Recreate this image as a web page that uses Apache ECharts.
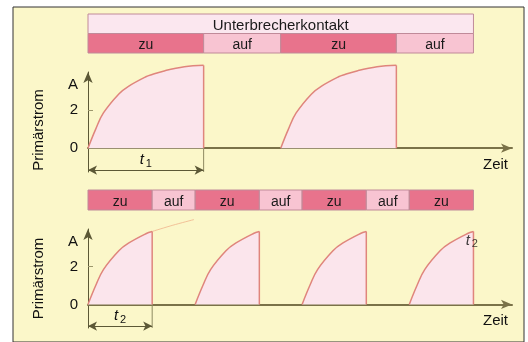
<!DOCTYPE html>
<html lang="de">
  <head>
    <meta charset="UTF-8" />
    <title>Primärstrom und Unterbrecherkontakt</title>
    <style>
      * {
        margin: 0;
        padding: 0;
      }
      body {
        background: #ffffff;
      }
    </style>
  </head>
  <body>
    <div id="main" style="width: 528px; height: 342px;"></div>
    <script src="https://cdn.jsdelivr.net/npm/echarts@6/dist/echarts.min.js"></script>
    <script>
      // Kontaktabschnitte (Zeit in willkürlichen Einheiten)
      let headerText = "Unterbrecherkontakt";
      let headerSpan = [0, 20];
      let topStart = [0, 6, 10, 16];
      let topEnd = [6, 10, 16, 20];
      let topLabel = ["zu", "auf", "zu", "auf"];
      let botStart = [0, 3.33, 5.56, 8.89, 11.11, 14.44, 16.67];
      let botEnd = [3.33, 5.56, 8.89, 11.11, 14.44, 16.67, 20];
      let botLabel = ["zu", "auf", "zu", "auf", "zu", "auf", "zu"];

      // Ladekurve (t ab "zu", Strom in A)
      let chargeT = [0, 0.4, 0.8, 1.6, 2.1, 3, 3.33, 4, 5, 6];
      let chargeI = [0, 1.0, 1.85, 2.85, 3.25, 3.75, 3.87, 4.07, 4.27, 4.35];

      // angedeuteter Weiterverlauf (unten, erster Impuls)
      let overT = [3.33, 4.4, 5.5];
      let overI = [3.87, 4.2, 4.5];

      // Beschriftung der y-Achse
      let yLabelValues = [0, 2, 3.3];
      let yLabelText = ["0", "2", "A"];
      let yTickValues = [2];

      let tMax = 22;
      let font = "Arial, 'Liberation Sans', sans-serif";
      let colZu = "#e8738c";
      let colAuf = "#f8c4d2";
      let colHead = "#fbe7ef";
      let colCurve = "#df857c";
      let colFill = "#fbe5ec";
      let colAxis = "#5c5836";

      let richT = {
        t: { fontSize: 15, fontStyle: "italic", fontFamily: font, color: "#111" },
        s: { fontSize: 11, fontFamily: font, color: "#111", padding: [7, 0, 0, 2] },
      };

      // Punkte einer Ladekurve ab Zeitpunkt start, Dauer dur
      function charge(start, dur) {
        let pts = [];
        for (let i = 0; i < chargeT.length; i++) {
          if (chargeT[i] <= dur + 0.001) {
            pts.push([start + chargeT[i], chargeI[i]]);
          }
        }
        return pts;
      }

      // Balkenzeile als custom series
      function barSeries(idx, rows) {
        return {
          type: "custom",
          xAxisIndex: idx,
          yAxisIndex: idx,
          silent: true,
          data: rows.map(function (r) {
            return [r.start, r.end, r.row];
          }),
          renderItem: function (params, api) {
            let r = rows[params.dataIndex];
            let p0 = api.coord([api.value(0), api.value(2)]);
            let p1 = api.coord([api.value(1), api.value(2) + 1]);
            return {
              type: "rect",
              shape: {
                x: p0[0],
                y: p0[1],
                width: p1[0] - p0[0],
                height: p1[1] - p0[1],
              },
              style: { fill: r.color, stroke: "#c08a99", lineWidth: 1 },
              textContent: {
                style: { text: r.label, fill: "#1a1a1a", font: r.size + "px " + font },
              },
              textConfig: { position: "inside", offset: [0, 2] },
            };
          },
        };
      }

      function rowsOf(starts, ends, labels, row) {
        let out = [];
        for (let i = 0; i < starts.length; i++) {
          out.push({
            start: starts[i],
            end: ends[i],
            label: labels[i],
            row: row,
            size: 14,
            color: labels[i] == "zu" ? colZu : colAuf,
          });
        }
        return out;
      }

      // Achsen eines Diagramms
      function plotX(g) {
        return {
          gridIndex: g,
          type: "value",
          min: 0,
          max: tMax,
          axisLine: {
            onZero: true,
            symbol: ["none", "arrow"],
            symbolSize: [7, 11],
            lineStyle: { color: "#7a7248", width: 2 },
          },
          axisTick: { show: false },
          axisLabel: { show: false },
          splitLine: { show: false },
          name: "Zeit",
          nameLocation: "end",
          nameGap: -4,
          nameTextStyle: {
            align: "right",
            verticalAlign: "top",
            padding: [9, 0, 0, 0],
            fontSize: 15,
            fontFamily: font,
            color: "#111",
          },
        };
      }
      function plotY(g, shift) {
        return {
          gridIndex: g,
          type: "value",
          min: -1.25,
          max: 4,
          axisLine: {
            symbol: ["none", "arrow"],
            symbolSize: [7, 11],
            lineStyle: { color: colAxis, width: 1 },
          },
          axisTick: {
            show: true,
            inside: true,
            length: 5,
            customValues: yTickValues,
            lineStyle: { color: "#9c976c" },
          },
          axisLabel: {
            customValues: yLabelValues,
            formatter: function (v) {
              return yLabelText[yLabelValues.indexOf(v)];
            },
            fontSize: 15,
            fontFamily: font,
            color: "#111",
            margin: 10,
          },
          splitLine: { show: false },
          name: "Primärstrom",
          nameLocation: "middle",
          nameGap: 42,
          nameTextStyle: {
            fontSize: 15,
            fontFamily: font,
            color: "#111",
            padding: [0, shift, 0, 0],
          },
        };
      }
      function hidden(g) {
        return { gridIndex: g, type: "value", show: false, min: 0, max: 1 };
      }

      // Impulse (Kurve + senkrechter Abfall) fuer alle "zu"-Abschnitte
      function pulses(idx, starts, ends, labels) {
        let list = [];
        for (let i = 0; i < starts.length; i++) {
          if (labels[i] != "zu") continue;
          let pts = charge(starts[i], ends[i] - starts[i]);
          let peak = pts[pts.length - 1];
          list.push({
            type: "line",
            xAxisIndex: idx,
            yAxisIndex: idx,
            data: pts,
            smooth: 0.4,
            symbol: "none",
            silent: true,
            clip: false,
            lineStyle: { color: colCurve, width: 1.5 },
            areaStyle: { color: colFill, opacity: 1 },
            z: 3,
          });
          list.push({
            type: "line",
            xAxisIndex: idx,
            yAxisIndex: idx,
            data: [peak, [peak[0], 0]],
            symbol: "none",
            silent: true,
            clip: false,
            lineStyle: { color: colCurve, width: 1.5 },
            z: 4,
          });
        }
        return list;
      }

      // Bemassung t1 / t2 mit Hilfslinie
      function dimension(idx, end, sub) {
        return {
          type: "line",
          xAxisIndex: idx,
          yAxisIndex: idx,
          data: [
            [end, 0],
            [end, -1.25],
          ],
          symbol: "none",
          silent: true,
          lineStyle: { color: "#8e8a62", width: 1 },
          z: 2,
          markLine: {
            silent: true,
            symbol: ["arrow", "arrow"],
            symbolSize: [7, 9],
            lineStyle: { color: colAxis, width: 1, type: "solid" },
            label: {
              show: true,
              position: "middle",
              distance: 1,
              formatter: "{t|t}{s|" + sub + "}",
              rich: richT,
            },
            data: [[{ coord: [0, -1.15] }, { coord: [end, -1.15] }]],
          },
        };
      }

      function draw() {
        let myEcharts = echarts.init(document.getElementById("main"));
        let topRows = [
          {
            start: headerSpan[0],
            end: headerSpan[1],
            label: headerText,
            row: 0,
            size: 15,
            color: colHead,
          },
        ].concat(rowsOf(topStart, topEnd, topLabel, 1));
        let botRows = rowsOf(botStart, botEnd, botLabel, 0);
        let lastEnd = botEnd[botEnd.length - 1];

        let option = {
          animation: false,
          backgroundColor: "#ffffff",
          textStyle: { fontFamily: font },
          grid: [
            {
              left: 13,
              top: 7,
              right: 4,
              bottom: -5,
              show: true,
              backgroundColor: "#fbf7c9",
              borderColor: "#333333",
              borderWidth: 1,
            },
            { left: 88, right: 16, top: 14, height: 39 },
            { left: 88, right: 16, top: 72, height: 100 },
            { left: 88, right: 16, top: 190, height: 20 },
            { left: 88, right: 16, top: 229, height: 99 },
          ],
          xAxis: [
            hidden(0),
            { gridIndex: 1, type: "value", min: 0, max: tMax, show: false },
            plotX(2),
            { gridIndex: 3, type: "value", min: 0, max: tMax, show: false },
            plotX(4),
          ],
          yAxis: [
            hidden(0),
            { gridIndex: 1, type: "value", min: 0, max: 2, inverse: true, show: false },
            plotY(2, 16),
            { gridIndex: 3, type: "value", min: 0, max: 1, inverse: true, show: false },
            plotY(4, 0),
          ],
          series: [barSeries(1, topRows), barSeries(3, botRows)]
            .concat(pulses(2, topStart, topEnd, topLabel))
            .concat(pulses(4, botStart, botEnd, botLabel))
            .concat([
              dimension(2, topEnd[0], "1"),
              dimension(4, botEnd[0], "2"),
              {
                type: "line",
                xAxisIndex: 4,
                yAxisIndex: 4,
                data: overT.map(function (t, i) {
                  return [t, overI[i]];
                }),
                smooth: 0.3,
                symbol: "none",
                silent: true,
                clip: false,
                lineStyle: { color: "#f0b48c", width: 1, opacity: 0.8 },
                z: 2,
              },
              // t2 am letzten Impuls
              {
                type: "scatter",
                xAxisIndex: 4,
                yAxisIndex: 4,
                data: [[lastEnd, chargeI[6]]],
                symbolSize: 1,
                silent: true,
                clip: false,
                itemStyle: { color: "rgba(0,0,0,0)" },
                label: {
                  show: true,
                  position: "left",
                  distance: 0,
                  offset: [5, 9],
                  formatter: "{t|t}{s|2}",
                  rich: richT,
                },
                z: 5,
              },
            ]),
        };
        myEcharts.setOption(option);
      }
      draw();
    </script>
  </body>
</html>
